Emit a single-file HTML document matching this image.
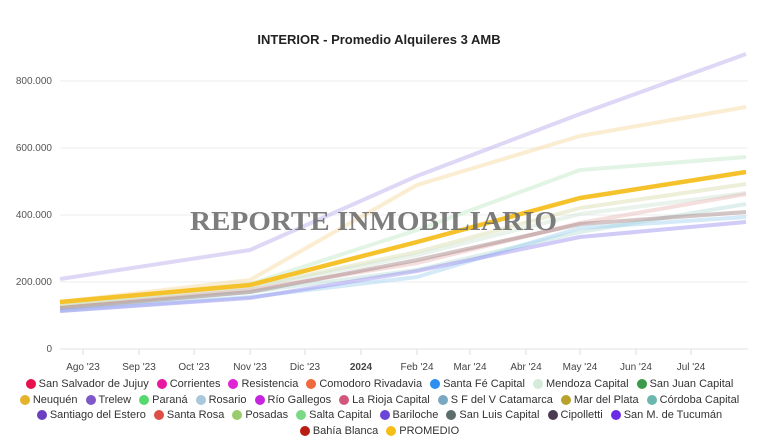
<!DOCTYPE html>
<html><head><meta charset="utf-8"><style>
body{margin:0;background:#fff;width:759px;height:446px;overflow:hidden;font-family:"Liberation Sans",Arial,sans-serif;position:relative}
.leg{position:absolute;left:0;width:759px;top:376px;font-size:11px;color:#333}
.row{display:flex;justify-content:center;height:15.7px;align-items:center;white-space:nowrap}
.it{display:flex;align-items:center;margin:0 4px}
.d{width:10px;height:10px;border-radius:50%;margin-right:3px}
</style></head><body>
<svg width="759" height="446" xmlns="http://www.w3.org/2000/svg" font-family="Liberation Sans, Arial, sans-serif" style="position:absolute;left:0;top:0">
<text x="379" y="44" text-anchor="middle" font-size="13" font-weight="bold" fill="#222">INTERIOR - Promedio Alquileres 3 AMB</text>
<g stroke="#eee" stroke-width="1">
<line x1="60" x2="748" y1="81" y2="81"/><line x1="60" x2="748" y1="148" y2="148"/>
<line x1="60" x2="748" y1="215" y2="215"/><line x1="60" x2="748" y1="282" y2="282"/>
</g>
<line x1="60" x2="748" y1="349" y2="349" stroke="#e2e2e2"/>
<g font-size="10" fill="#555" text-anchor="end">
<text x="52" y="84">800.000</text><text x="52" y="151">600.000</text><text x="52" y="218">400.000</text><text x="52" y="285">200.000</text><text x="52" y="352">0</text>
</g>
<g stroke="#ddd"><line x1="83" x2="83" y1="349" y2="355"/><line x1="139" x2="139" y1="349" y2="355"/><line x1="194" x2="194" y1="349" y2="355"/><line x1="250" x2="250" y1="349" y2="355"/><line x1="305" x2="305" y1="349" y2="355"/><line x1="361" x2="361" y1="349" y2="355"/><line x1="417" x2="417" y1="349" y2="355"/><line x1="470" x2="470" y1="349" y2="355"/><line x1="526" x2="526" y1="349" y2="355"/><line x1="580" x2="580" y1="349" y2="355"/><line x1="636" x2="636" y1="349" y2="355"/><line x1="691" x2="691" y1="349" y2="355"/></g>
<g font-size="10" fill="#444" text-anchor="middle">
<text x="83" y="370">Ago '23</text><text x="139" y="370">Sep '23</text><text x="194" y="370">Oct '23</text><text x="250" y="370">Nov '23</text><text x="305" y="370">Dic '23</text><text x="361" y="370" font-weight="bold">2024</text><text x="417" y="370">Feb '24</text><text x="470" y="370">Mar '24</text><text x="526" y="370">Abr '24</text><text x="580" y="370">May '24</text><text x="636" y="370">Jun '24</text><text x="691" y="370">Jul '24</text>
</g>
<g fill="none" stroke-width="4" stroke-linejoin="round" stroke-opacity="0.45">
<polyline stroke="#b9a6ea" points="60,279 250,250 417,176 580,114 746,54"/>
<polyline stroke="#f6d79a" points="60,302 250,280 417,185 580,136 746,107"/>
<polyline stroke="#bfe6c4" points="60,305 250,284 417,230 580,170 746,157"/>
<polyline stroke="#d7dcaa" points="60,306 250,287 417,252 580,208 746,184"/>
<polyline stroke="#cfe3d3" points="60,307 250,288 417,255 580,214 746,193"/>
<polyline stroke="#e7b5b5" points="60,308 250,290 417,263 580,223 746,194"/>
<polyline stroke="#b5dcd8" points="60,310 250,292 417,270 580,232 746,204"/>
<polyline stroke="#a08080" points="60,308 250,292 417,260 580,224 746,212"/>
<polyline stroke="#9fd0f0" points="60,311 250,297 417,277 580,228 746,217"/>
<polyline stroke="#9a8cf0" points="60,311 250,298 417,271 580,237 746,222"/>
</g>
<polyline fill="none" stroke="#f5c22b" stroke-width="4.5" stroke-linejoin="round" points="60,302 250,285 417,242 580,198 746,172"/>
<text x="190" y="230" font-family="Liberation Serif, serif" font-weight="bold" font-size="27" fill="#666" fill-opacity="0.85" textLength="367" lengthAdjust="spacingAndGlyphs">REPORTE INMOBILIARIO</text>
</svg>
<div class="leg">
<div class="row">
<span class="it"><span class="d" style="background:#e8114d"></span>San Salvador de Jujuy</span>
<span class="it"><span class="d" style="background:#e619a0"></span>Corrientes</span>
<span class="it"><span class="d" style="background:#e021d4"></span>Resistencia</span>
<span class="it"><span class="d" style="background:#ef6a3f"></span>Comodoro Rivadavia</span>
<span class="it"><span class="d" style="background:#2a8ff0"></span>Santa Fé Capital</span>
<span class="it"><span class="d" style="background:#d5ead8"></span>Mendoza Capital</span>
<span class="it"><span class="d" style="background:#3c9b4a"></span>San Juan Capital</span>
</div>
<div class="row">
<span class="it"><span class="d" style="background:#e4b22c"></span>Neuquén</span>
<span class="it"><span class="d" style="background:#7f58c8"></span>Trelew</span>
<span class="it"><span class="d" style="background:#55d96d"></span>Paraná</span>
<span class="it"><span class="d" style="background:#a8c8dc"></span>Rosario</span>
<span class="it"><span class="d" style="background:#c625e0"></span>Río Gallegos</span>
<span class="it"><span class="d" style="background:#d3577d"></span>La Rioja Capital</span>
<span class="it"><span class="d" style="background:#7aa7c2"></span>S F del V Catamarca</span>
<span class="it"><span class="d" style="background:#b8a229"></span>Mar del Plata</span>
<span class="it"><span class="d" style="background:#6ab7b0"></span>Córdoba Capital</span>
</div>
<div class="row">
<span class="it"><span class="d" style="background:#6a3fc0"></span>Santiago del Estero</span>
<span class="it"><span class="d" style="background:#dd4e47"></span>Santa Rosa</span>
<span class="it"><span class="d" style="background:#99cc6c"></span>Posadas</span>
<span class="it"><span class="d" style="background:#7ad985"></span>Salta Capital</span>
<span class="it"><span class="d" style="background:#6b45d8"></span>Bariloche</span>
<span class="it"><span class="d" style="background:#5c6e6b"></span>San Luis Capital</span>
<span class="it"><span class="d" style="background:#4a3a52"></span>Cipolletti</span>
<span class="it"><span class="d" style="background:#6a2ae6"></span>San M. de Tucumán</span>
</div>
<div class="row">
<span class="it"><span class="d" style="background:#b81d14"></span>Bahía Blanca</span>
<span class="it"><span class="d" style="background:#f7be17"></span>PROMEDIO</span>
</div>
</div>
</body></html>
